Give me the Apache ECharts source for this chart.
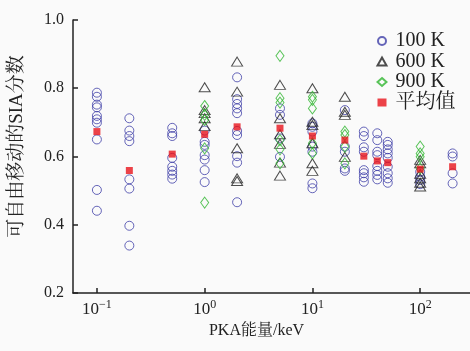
<!DOCTYPE html>
<html><head><meta charset="utf-8">
<script src="https://cdn.jsdelivr.net/npm/echarts@6/dist/echarts.min.js"></script>
<style>html,body{margin:0;padding:0;background:#fafafa}#c{width:470px;height:351px}</style>
</head><body><div id="c"></div>
<script>
const xTicks = [0.1, 1, 10, 100];
const yTicks = [0.2, 0.4, 0.6, 0.8, 1.0];
const legendNames = ['100 K', '600 K', '900 K', '平均值'];

const k100 = [
 [0.1,0.787],[0.1,0.775],[0.1,0.752],[0.1,0.744],[0.1,0.719],[0.1,0.709],[0.1,0.699],[0.1,0.650],[0.1,0.502],[0.1,0.441],
 [0.2,0.712],[0.2,0.676],[0.2,0.660],[0.2,0.645],[0.2,0.533],[0.2,0.506],[0.2,0.397],[0.2,0.339],
 [0.5,0.684],[0.5,0.668],[0.5,0.660],[0.5,0.596],[0.5,0.570],[0.5,0.558],[0.5,0.547],[0.5,0.535],
 [1,0.676],[1,0.643],[1,0.634],[1,0.604],[1,0.591],[1,0.560],[1,0.525],
 [2,0.832],[2,0.768],[2,0.754],[2,0.741],[2,0.727],[2,0.675],[2,0.663],[2,0.601],[2,0.582],[2,0.466],
 [5,0.741],[5,0.722],[5,0.653],[5,0.599],
 [10,0.697],[10,0.687],[10,0.673],[10,0.629],[10,0.614],[10,0.521],[10,0.507],
 [20,0.736],[20,0.629],[20,0.614],[20,0.565],[20,0.558],
 [30,0.673],[30,0.660],[30,0.627],[30,0.614],[30,0.560],[30,0.551],[30,0.539],[30,0.526],
 [40,0.668],[40,0.648],[40,0.614],[40,0.604],[40,0.572],[40,0.558],[40,0.546],[40,0.533],
 [50,0.643],[50,0.634],[50,0.621],[50,0.609],[50,0.596],[50,0.570],[50,0.551],[50,0.536],[50,0.523],
 [100,0.555],[100,0.541],[100,0.531],[100,0.519],
 [200,0.609],[200,0.600],[200,0.551],[200,0.521]
];
const k600 = [
 [1,0.803],[1,0.736],[1,0.727],[1,0.712],[1,0.689],
 [2,0.878],[2,0.790],[2,0.624],[2,0.536],[2,0.528],
 [5,0.810],[5,0.712],[5,0.665],[5,0.637],[5,0.582],[5,0.544],
 [10,0.800],[10,0.702],[10,0.692],[10,0.639],[10,0.580],[10,0.558],
 [20,0.775],[20,0.731],[20,0.722],[20,0.599],
 [100,0.590],[100,0.580],[100,0.549],[100,0.536],[100,0.523],[100,0.512]
];
const k900 = [
 [1,0.748],[1,0.722],[1,0.707],[1,0.624],[1,0.465],
 [5,0.895],[5,0.771],[5,0.758],[5,0.648],[5,0.621],[5,0.580],
 [10,0.775],[10,0.766],[10,0.741],[10,0.639],[10,0.609],
 [20,0.673],[20,0.663],[20,0.629],[20,0.580],
 [100,0.629],[100,0.609],[100,0.599],[100,0.565]
];
const avg = [
 [0.1,0.673],[0.2,0.559],[0.5,0.607],[1,0.665],[2,0.687],[5,0.683],[10,0.660],
 [20,0.648],[30,0.601],[40,0.587],[50,0.582],[100,0.563],[200,0.570]
];

const FONT = "'Liberation Serif', 'Noto Serif CJK SC', 'Noto Sans CJK SC', serif";
const sup = {'-1':'−1','0':'0','1':'1','2':'2'};
const chart = echarts.init(document.getElementById('c'), null, {renderer:'canvas'});
chart.setOption({
  backgroundColor: '#fafafa',
  animation: false,
  grid: {left: 72, right: 0, top: 20, bottom: 58},
  legend: {
    orient: 'vertical', left: 370, top: 26,
    itemWidth: 9, itemHeight: 8, itemGap: 0.5,
    data: legendNames,
    textStyle: {fontFamily: FONT, fontSize: 20, color: '#222', lineHeight: 20, padding: [0,0,0,4]}
  },
  xAxis: {
    type: 'log', logBase: 10, min: 0.06, max: 290,
    axisLine: {lineStyle: {color: '#222', width: 1.5}},
    axisTick: {inside: true, length: 5, lineStyle: {color: '#222', width: 1.5}, customValues: xTicks},
    splitLine: {show: false},
    axisLabel: {
      customValues: xTicks, margin: 6,
      formatter: function (v) { const e = Math.round(Math.log10(v)); return '{b|10}{s|' + sup[String(e)] + '}'; },
      rich: {
        b: {fontFamily: FONT, fontSize: 17, color: '#222'},
        s: {fontFamily: FONT, fontSize: 12, color: '#222', padding: [0,0,9,0]}
      }
    },
    name: 'PKA能量/keV', nameLocation: 'middle', nameGap: 27,
    nameTextStyle: {fontFamily: FONT, fontSize: 16, color: '#222', padding: [0, 30, 0, 0]}
  },
  yAxis: {
    type: 'value', min: 0.2, max: 1.0, interval: 0.2,
    axisLine: {show: true, lineStyle: {color: '#222', width: 1.5}},
    axisTick: {show: true, inside: true, length: 5, lineStyle: {color: '#222', width: 1.5}},
    splitLine: {show: false},
    axisLabel: {fontFamily: FONT, fontSize: 16, color: '#222', margin: 9, formatter: v => v.toFixed(1)},
    name: '可自由移动的SIA分数', nameLocation: 'middle', nameGap: 46, nameRotate: 90,
    nameTextStyle: {fontFamily: FONT, fontSize: 19, color: '#222', padding: [0, 0, 0, 20]}
  },
  series: [
    {name: legendNames[0], type: 'scatter', data: k100, symbol: 'circle', symbolSize: 9,
     itemStyle: {color: 'none', borderColor: '#3f3fa8', borderWidth: 1}},
    {name: legendNames[1], type: 'scatter', data: k600, symbol: 'triangle', symbolSize: [11, 9],
     itemStyle: {color: 'none', borderColor: '#222', borderWidth: 1}},
    {name: legendNames[2], type: 'scatter', data: k900, symbol: 'diamond', symbolSize: [8, 11],
     itemStyle: {color: 'none', borderColor: '#2fb52f', borderWidth: 1}},
    {name: legendNames[3], type: 'scatter', data: avg, symbol: 'rect', symbolSize: 7,
     itemStyle: {color: '#e8141c'}}
  ]
});
</script></body></html>
